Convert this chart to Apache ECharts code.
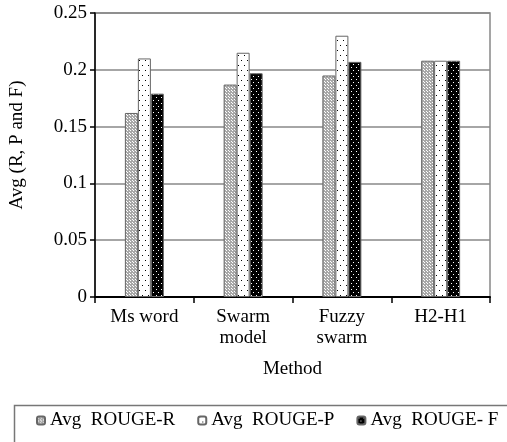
<!DOCTYPE html>
<html>
<head>
<meta charset="utf-8">
<script src="https://cdn.jsdelivr.net/npm/echarts@6/dist/echarts.min.js"></script>
<style>html,body{margin:0;padding:0;background:#fff}#c{width:507px;height:442px}</style>
</head>
<body>
<div id="c"></div>
<script>
var categories = ['Ms word', 'Swarm\nmodel', 'Fuzzy\nswarm', 'H2-H1'];
var seriesNames = ['Avg  ROUGE-R', 'Avg  ROUGE-P', 'Avg  ROUGE- F'];
var rougeR = [0.162, 0.187, 0.195, 0.208];
var rougeP = [0.210, 0.215, 0.230, 0.208];
var rougeF = [0.179, 0.197, 0.207, 0.208];
var yMin = 0, yMax = 0.25, yStep = 0.05;

function makePattern(w, h, bg, fg, pts) {
  var cv = document.createElement('canvas');
  cv.width = w; cv.height = h;
  var ctx = cv.getContext('2d');
  ctx.fillStyle = bg; ctx.fillRect(0, 0, w, h);
  ctx.fillStyle = fg;
  pts.forEach(function (p) { ctx.fillRect(p[0], p[1], 1, 1); });
  return { image: cv, repeat: 'repeat' };
}
var patR = makePattern(3, 3, '#a8a8a8', '#ffffff', [[1, 1], [0, 0]]);
var patP = makePattern(6, 10, '#ffffff', '#000000', [[1, 0], [4, 5]]);
var patF = makePattern(5, 6, '#000000', '#ffffff', [[1, 1], [3, 4]]);

var font = 'Liberation Serif, Times New Roman, serif';
var chart = echarts.init(document.getElementById('c'));
function bar(name, data, pat) {
  return {
    name: name, type: 'bar', data: data, barWidth: 13, barGap: '0%',
    itemStyle: { color: pat, borderColor: '#666', borderWidth: 1 },
    emphasis: { disabled: true }
  };
}
chart.setOption({
  animation: false,
  textStyle: { fontFamily: font },
  grid: { left: 91, right: 17, top: 13, bottom: 145, show: true, borderColor: '#888', borderWidth: 1.5 },
  graphic: [{
    type: 'rect', left: 12, top: 403, silent: true,
    shape: { width: 520, height: 60 },
    style: { fill: 'none', stroke: '#777', lineWidth: 1.5 }
  }],
  legend: {
    left: 36, top: 411, right: 0,
    padding: 0,
    itemWidth: 8, itemHeight: 8, itemGap: 22,
    textStyle: { fontFamily: font, fontSize: 19, color: '#000' },
    data: seriesNames
  },
  xAxis: {
    type: 'category', data: categories,
    name: 'Method', nameLocation: 'middle', nameGap: 63,
    nameTextStyle: { fontFamily: font, fontSize: 19, color: '#000' },
    axisLine: { lineStyle: { color: '#000', width: 2 } },
    axisTick: { show: true, length: 6, lineStyle: { color: '#000', width: 1.5 } },
    axisLabel: { fontFamily: font, fontSize: 19, color: '#000', margin: 10, lineHeight: 21, interval: 0 }
  },
  yAxis: {
    type: 'value', min: yMin, max: yMax, interval: yStep,
    name: 'Avg (R, P and F)', nameLocation: 'middle', nameGap: 68,
    nameTextStyle: { fontFamily: font, fontSize: 19, color: '#000', padding: [0, 0, 0, 20] },
    axisLine: { show: true, lineStyle: { color: '#000', width: 1.5 } },
    axisTick: { show: true, length: 5, lineStyle: { color: '#000', width: 1.5 } },
    axisLabel: { fontFamily: font, fontSize: 19, color: '#000', margin: 8 },
    splitLine: { lineStyle: { color: '#888', width: 1.5 } }
  },
  series: [bar(seriesNames[0], rougeR, patR), bar(seriesNames[1], rougeP, patP), bar(seriesNames[2], rougeF, patF)]
});
</script>
</body>
</html>
